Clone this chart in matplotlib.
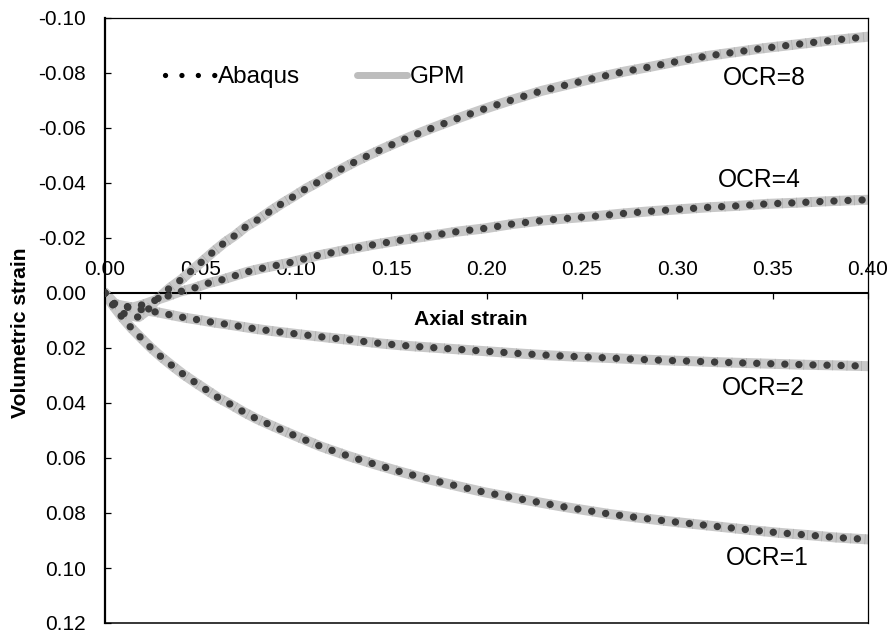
import matplotlib
matplotlib.use("Agg")
import matplotlib.pyplot as plt
from matplotlib.lines import Line2D

plt.rcParams['font.family'] = ['Liberation Sans', 'DejaVu Sans']
plt.rcParams['axes.unicode_minus'] = False

# ---------------- data ----------------
ocr1_x = [0, 0.004, 0.0087, 0.0135, 0.0187, 0.0239, 0.0294, 0.0353, 0.0411, 0.0472,
          0.0533, 0.0594, 0.0661, 0.0725, 0.0790, 0.0860, 0.0926, 0.0996, 0.1131, 0.1272,
          0.1415, 0.1559, 0.1700, 0.1847, 0.1992, 0.2200, 0.2400, 0.2647, 0.2796, 0.2941,
          0.3088, 0.3236, 0.3385, 0.3533, 0.3682, 0.3831, 0.4000]
ocr1_y = [0, 0.0043, 0.0086, 0.0125, 0.0162, 0.0198, 0.0232, 0.0265, 0.0296, 0.0325,
          0.0353, 0.0381, 0.0406, 0.0432, 0.0456, 0.0478, 0.0498, 0.0519, 0.0558, 0.0592,
          0.0623, 0.0652, 0.0678, 0.0702, 0.0725, 0.0752, 0.0777, 0.0804, 0.0817, 0.0829,
          0.0840, 0.0851, 0.0862, 0.0872, 0.0880, 0.0889, 0.0896]

ocr2_x = [0, 0.0044, 0.0122, 0.0201, 0.0274, 0.0346, 0.0419, 0.0493, 0.0568, 0.0641,
          0.0713, 0.0786, 0.0860, 0.0931, 0.1005, 0.1153, 0.1302, 0.1451, 0.1599, 0.1747,
          0.1896, 0.2045, 0.2193, 0.2338, 0.2487, 0.2635, 0.2784, 0.2932, 0.3079, 0.3228,
          0.3378, 0.3526, 0.3675, 0.3823, 0.4000]
ocr2_y = [0, 0.0040, 0.0050, 0.0062, 0.0070, 0.0080, 0.0090, 0.0098, 0.0107, 0.0114,
          0.0122, 0.0130, 0.0137, 0.0143, 0.0149, 0.0161, 0.0172, 0.0184, 0.0193, 0.0200,
          0.0207, 0.0214, 0.0221, 0.0227, 0.0232, 0.0236, 0.0241, 0.0245, 0.0248, 0.0252,
          0.0255, 0.0258, 0.0261, 0.0263, 0.0266]

ocr4_x = [0, 0.005, 0.010, 0.015, 0.020, 0.0253, 0.0323, 0.0393, 0.0463, 0.0537,
          0.0608, 0.0682, 0.0751, 0.0825, 0.0966, 0.1113, 0.1258, 0.1403, 0.1550, 0.1695,
          0.1844, 0.1992, 0.2137, 0.2286, 0.2433, 0.2581, 0.2730, 0.2875, 0.3023, 0.3172,
          0.3320, 0.3469, 0.3617, 0.3766, 0.3914, 0.4000]
ocr4_y = [0, 0.0038, 0.0052, 0.0052, 0.0042, 0.0029, 0.0013, -0.0005, -0.0017, -0.0035,
          -0.0047, -0.0063, -0.0078, -0.0090, -0.0110, -0.0136, -0.0156, -0.0175, -0.0192, -0.0207,
          -0.0223, -0.0235, -0.0251, -0.0263, -0.0272, -0.0280, -0.0290, -0.0298, -0.0305, -0.0312,
          -0.0317, -0.0324, -0.0328, -0.0333, -0.0337, -0.0339]

ocr8_x = [0, 0.005, 0.010, 0.0175, 0.022, 0.027, 0.0337, 0.0402, 0.0568, 0.0626,
          0.0685, 0.0738, 0.0807, 0.0869, 0.0931, 0.0996, 0.1057, 0.1122, 0.1188, 0.1253,
          0.1319, 0.1386, 0.1454, 0.1520, 0.1590, 0.1657, 0.1727, 0.1796, 0.1865, 0.1934,
          0.2004, 0.2146, 0.2289, 0.2433, 0.2578, 0.2722, 0.2869, 0.3014, 0.3159, 0.3306,
          0.3451, 0.3600, 0.3748, 0.3897, 0.4000]
ocr8_y = [0, 0.0045, 0.0075, 0.0088, 0.0065, 0.0025, -0.0017, -0.0050, -0.0150, -0.0183,
          -0.0211, -0.0241, -0.0269, -0.0299, -0.0327, -0.0354, -0.0381, -0.0405, -0.0432, -0.0456,
          -0.0480, -0.0502, -0.0524, -0.0544, -0.0565, -0.0584, -0.0603, -0.0621, -0.0639, -0.0656,
          -0.0673, -0.0705, -0.0735, -0.0759, -0.0783, -0.0805, -0.0824, -0.0844, -0.0862, -0.0876,
          -0.0890, -0.0902, -0.0914, -0.0925, -0.0932]

# Abaqus and GPM curves coincide in the reference
curves_x = [ocr1_x, ocr2_x, ocr4_x, ocr8_x]
curves_y = [ocr1_y, ocr2_y, ocr4_y, ocr8_y]

curve_labels = ["OCR=1", "OCR=2", "OCR=4", "OCR=8"]
label_x = [0.3473, 0.3452, 0.3430, 0.3455]
label_y = [0.0964, 0.0345, -0.0411, -0.0782]

xticks = [0.00, 0.05, 0.10, 0.15, 0.20, 0.25, 0.30, 0.35, 0.40]
xtick_labels = ["0.00", "0.05", "0.10", "0.15", "0.20", "0.25", "0.30", "0.35", "0.40"]
yticks = [-0.10, -0.08, -0.06, -0.04, -0.02, 0.00, 0.02, 0.04, 0.06, 0.08, 0.10, 0.12]
ytick_labels = ["-0.10", "-0.08", "-0.06", "-0.04", "-0.02", "0.00", "0.02", "0.04",
                "0.06", "0.08", "0.10", "0.12"]

# ---------------- figure ----------------
W, H = 890, 635
fig = plt.figure(figsize=(W / 100, H / 100), dpi=100)
ax = fig.add_axes([105 / W, 1 - 623 / H, (868 - 105) / W, (623 - 18) / H])

band_color = '#c8c8c8'
tick_color = '#ababab'
dot_color = '#3c3c3c'

for cx, cy in zip(curves_x, curves_y):
    ax.plot(cx, cy, color=band_color, lw=7.2, solid_capstyle='round', zorder=2)
    ax.plot(cx, cy, color=tick_color, lw=7.2, linestyle=(7, (0.07, 1.37)),
            dash_capstyle='butt', zorder=3)
    ax.plot(cx, cy, color=dot_color, lw=5.3, linestyle=(0, (0.01, 1.9)),
            dash_capstyle='round', zorder=4)

for t, tx, ty in zip(curve_labels, label_x, label_y):
    ax.text(tx, ty, t, fontsize=17.7, ha='center', va='center', zorder=5)

ax.set_xlim(0, 0.40)
ax.set_ylim(0.12, -0.10)

ax.set_xticks(xticks)
ax.set_xticklabels(xtick_labels)
ax.set_yticks(yticks)
ax.set_yticklabels(ytick_labels)

ax.spines['bottom'].set_position(('data', 0))
ax.spines['bottom'].set_linewidth(1.5)
ax.spines['left'].set_linewidth(1.6)
ax.spines['top'].set_linewidth(0.9)
ax.spines['right'].set_linewidth(0.9)
ax.plot([0, 1], [0, 0], transform=ax.transAxes, color='black', lw=1.1,
        clip_on=False, zorder=6)

ax.tick_params(axis='x', direction='out', length=4.3, width=0.9, pad=-28, labelsize=15)
ax.tick_params(axis='y', direction='in', length=4.3, width=0.9, pad=13.7, labelsize=15)

ax.text((471 - 105) / 763, 1 - (320 - 18) / 605, "Axial strain", transform=ax.transAxes,
        fontsize=15.2, fontweight='bold', ha='center', va='center')
fig.text(21 / W, 1 - 333 / H, "Volumetric strain", rotation=90, fontsize=15.2,
         fontweight='bold', ha='center', va='center')

# legend
h_abaqus = Line2D([], [], color='black', lw=3.8, linestyle=(0, (0.01, 3.1)),
                  dash_capstyle='round')
h_gpm = Line2D([], [], color='#bdbdbd', lw=5.0, solid_capstyle='round')
ax.legend([h_abaqus, h_gpm], ["Abaqus", "GPM"],
          loc='center left', bbox_to_anchor=((165 - 105) / 763, 1 - (77 - 18) / 605),
          ncol=2, frameon=False, fontsize=17.5, handlelength=2.06, handletextpad=0.12,
          columnspacing=2.35, borderpad=0, borderaxespad=0)

fig.savefig("out.png", dpi=100)
